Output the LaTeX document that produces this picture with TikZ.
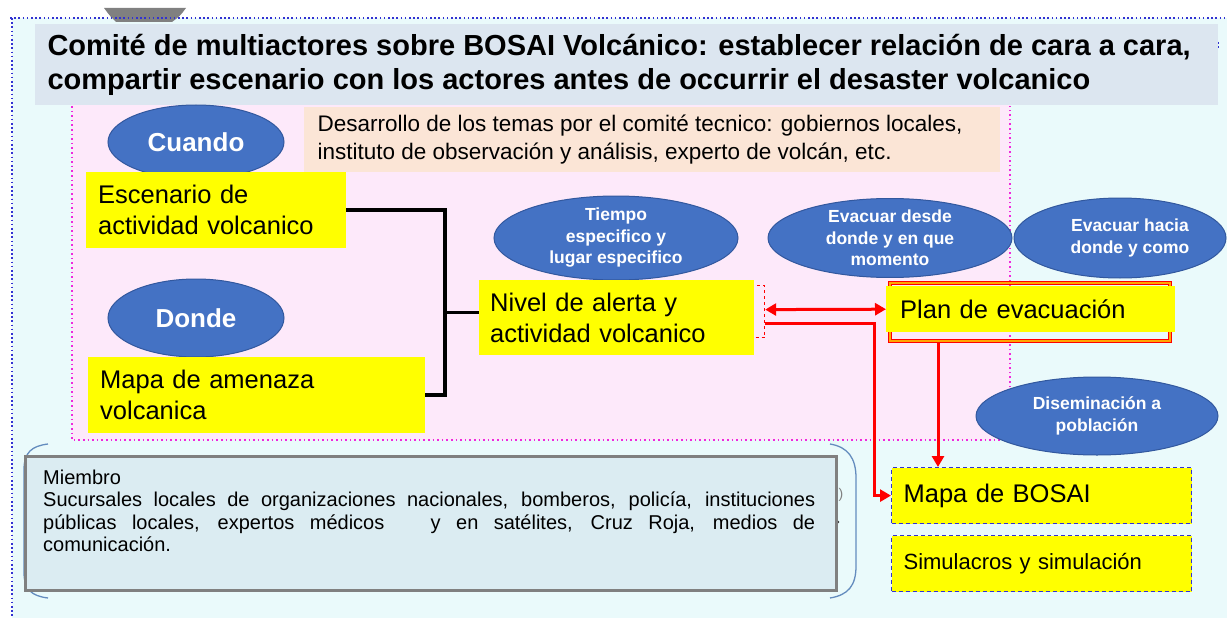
\documentclass[tikz,border=0pt]{standalone}
\usepackage{fontspec}
\setmainfont{Liberation Sans}
\usetikzlibrary{shapes.geometric,arrows.meta}
\definecolor{bgc}{RGB}{234,250,251}
\definecolor{titlec}{RGB}{220,230,240}
\definecolor{pinkc}{RGB}{253,233,250}
\definecolor{peachc}{RGB}{251,229,214}
\definecolor{ellc}{RGB}{68,114,196}
\definecolor{ellb}{RGB}{50,88,158}
\definecolor{miemc}{RGB}{219,236,242}
\definecolor{brc}{RGB}{100,140,190}
\definecolor{dotblue}{RGB}{50,50,210}
\definecolor{dotmag}{RGB}{240,40,220}
\definecolor{ylw}{RGB}{255,255,0}
\definecolor{redc}{RGB}{255,0,0}
\begin{document}
\begin{tikzpicture}[x=1pt,y=-1pt,
  blueell/.style={ellipse, fill=ellc, draw=ellb, line width=1pt, inner sep=0pt, text=white, align=center,
     font=\bfseries\fontsize{17.5}{21.5}\selectfont},
  ybox/.style={fill=ylw, inner sep=0pt, anchor=north west, align=left, font=\fontsize{25.5}{31}\selectfont},
  bluedash/.style={draw=dotblue, dashed, line width=1.2pt, dash pattern=on 4pt off 3pt},
  blackline/.style={draw=black, line width=3.5pt},
  redline/.style={draw=redc, line width=3pt},
  redtip/.style={-{Triangle[length=11pt,width=12pt]}},
  dotb/.style={draw=dotblue, line width=2pt, dash pattern=on 1.6pt off 2.6pt},
  dotm/.style={draw=dotmag, line width=2pt, dash pattern=on 1.6pt off 3pt}
]
\useasboundingbox (0,0) rectangle (1227,618);
\fill[white] (0,0) rectangle (1227,618);
\fill[bgc] (12,18) rectangle (1227,618);
% gray tab at top
\fill[black!50] (104,8) -- (186,8) .. controls (180,16) .. (172,22) -- (116,22) .. controls (110,16) .. cycle;
\draw[dotb] (10,18) -- (1227,18);
\draw[dotb] (12,18) -- (12,618);
\draw[dotb] (1218,42) -- (1218,48);
% title band
\fill[titlec] (35,24) rectangle (1218,105);
\node[anchor=west, align=left, font=\bfseries\fontsize{29}{34}\selectfont] (title) at (44,65)
  {Comité de multiactores sobre BOSAI Volcánico: establecer relación de cara a cara,\\compartir escenario con los actores antes de occurrir el desaster volcanico};
% pink region
\fill[pinkc] (72,105) rectangle (1010,440);
\draw[dotm] (72,106) -- (72,440) -- (1010,440) -- (1010,106);
% peach box
\node[fill=peachc, inner sep=0pt, minimum width=696pt, minimum height=65pt, anchor=north west] (peach) at (304,107) {};
\node[anchor=west, align=left, font=\fontsize{22.5}{28}\selectfont] (peachtxt) at (314,140)
  {Desarrollo de los temas por el comité tecnico: gobiernos locales,\\instituto de observación y análisis, experto de volcán, etc.};
% ellipses left
\node[blueell, minimum width=176pt, minimum height=74pt, font=\bfseries\fontsize{26}{28}\selectfont] (cuando) at (196,142) {Cuando};
\node[blueell, minimum width=176pt, minimum height=78pt, font=\bfseries\fontsize{26}{28}\selectfont] (donde) at (196,318) {Donde};
% yellow boxes left
\node[ybox, minimum width=260pt, minimum height=76pt, text width=236pt, inner xsep=12pt] (esc) at (86,172)
  {Escenario de\\actividad volcanico};
\node[ybox, minimum width=337pt, minimum height=76pt, text width=313pt, inner xsep=12pt] (amen) at (88,357)
  {Mapa de amenaza\\volcanica};
% upper ellipses
\node[blueell, minimum width=244pt, minimum height=78pt] (tiempo) at (616,238) {Tiempo\\especifico y\\lugar especifico};
\node[blueell, minimum width=244pt, minimum height=78pt] (desde) at (890,238) {Evacuar desde\\donde y en que\\momento};
\node[blueell, minimum width=212pt, minimum height=80pt] (hacia) at (1120,238) {\hspace*{20pt}Evacuar hacia\\\hspace*{20pt}donde y como};
% nivel
\node[draw=redc, dashed, line width=1.2pt, inner sep=0pt, minimum width=285pt, minimum height=52pt, anchor=north west] (nivfr) at (479,285) {};
\node[ybox, minimum width=275pt, minimum height=75pt, text width=253pt, inner xsep=11pt] (nivel) at (479,280)
  {Nivel de alerta y\\actividad volcanico};
% plan
\node[draw=redc, double=orange!70!yellow, double distance=2.2pt, line width=1.3pt, inner sep=0pt,
      minimum width=280pt, minimum height=58pt] (planfr) at (1030,312) {};
\node[ybox, minimum width=289pt, minimum height=46pt, text width=261pt, inner xsep=14pt] (plan) at (886,286)
  {Plan de evacuación};
% diseminacion
\node[blueell, minimum width=242pt, minimum height=78pt] (disem) at (1097,416) {Diseminación a\\población};
% bosai / simulacros
\node[ybox, bluedash, minimum width=300pt, minimum height=56pt, text width=276pt, inner xsep=12pt] (bosai) at (891,467)
  {Mapa de BOSAI};
\node[ybox, bluedash, minimum width=300pt, minimum height=56pt, text width=276pt, inner xsep=12pt,
      font=\fontsize{22}{26}\selectfont] (simul) at (891,535)
  {Simulacros y simulación};
% brackets around miembro
\draw[brc, line width=1.3pt] (48,444) .. controls (32,446) and (24,452) .. (24,470) -- (24,572) .. controls (24,590) and (32,596) .. (48,598);
\draw[brc, line width=1.3pt] (830,444) .. controls (848,447) and (856,458) .. (856,478) -- (856,566) .. controls (856,586) and (848,595) .. (830,598);
\node[text=gray, font=\fontsize{14}{14}\selectfont, inner sep=0pt] (paren) at (841,495) {)};
\fill[black!80] (838,522) circle (1.3);
% miembro box
\node[fill=miemc, draw=black!50, line width=2.5pt, inner sep=0pt, minimum width=811pt, minimum height=134pt, anchor=north west] (miembro) at (24,455) {};
\node[anchor=north west, inner sep=0pt, font=\fontsize{20}{22.3}\selectfont] (mtext) at (43,470)
  {\parbox{772pt}{Miembro\\
   \makebox[772pt][s]{Sucursales locales de organizaciones nacionales, bomberos, policía, instituciones}\\
   \makebox[772pt][s]{públicas locales, expertos médicos \ \ y en satélites, Cruz Roja, medios de}\\
   comunicación.}};
% black connectors
\coordinate (bx) at (445,0);
\draw[blackline] (esc.east) -- (esc.east -| bx) -- (bx |- amen.east) -- (amen.east);
\draw[blackline] (bx |- nivel.west) ++(0,-5) -- ([yshift=5pt]nivel.west);
% red connectors
\coordinate (rx) at (874,0);
\coordinate (vx) at (938,0);
\draw[redline, {Triangle[length=11pt,width=12pt]}-{Triangle[length=11pt,width=12pt]}] ([yshift=2pt]nivfr.east) -- (plan.west);
\draw[redline, redtip] ([yshift=-12pt]nivfr.east) -| (rx |- bosai.west) -- (bosai.west);
\draw[redline, redtip] (vx |- planfr.south) -- (vx |- bosai.north);
\end{tikzpicture}
\end{document}
